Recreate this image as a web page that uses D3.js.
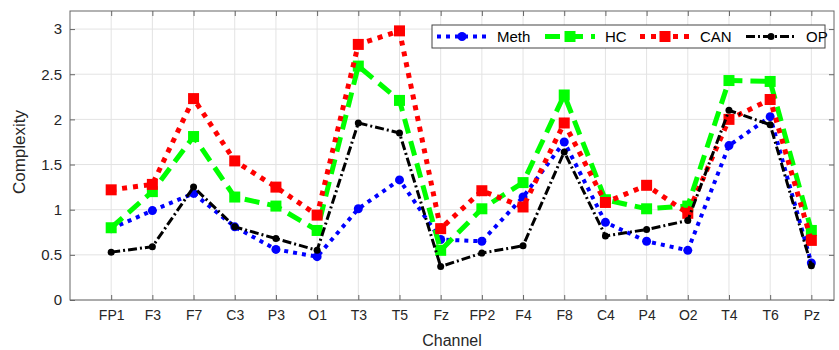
<!DOCTYPE html>
<html><head><meta charset="utf-8">
<script src="https://cdn.jsdelivr.net/npm/d3@7"></script>
<style>body{margin:0;background:#fff}svg{display:block}text{font-family:"Liberation Sans",Arial,sans-serif}</style>
</head><body><svg id="c" width="839" height="350"></svg>
<script>
const channels = ["FP1","F3","F7","C3","P3","O1","T3","T5","Fz","FP2","F4","F8","C4","P4","O2","T4","T6","Pz"];
const meth = [0.79,0.99,1.18,0.81,0.56,0.48,1.01,1.33,0.67,0.65,1.14,1.75,0.86,0.65,0.55,1.71,2.03,0.41];
const hc   = [0.80,1.20,1.81,1.14,1.04,0.77,2.59,2.21,0.55,1.01,1.30,2.27,1.11,1.01,1.04,2.43,2.42,0.77];
const can  = [1.22,1.28,2.23,1.54,1.25,0.94,2.83,2.98,0.79,1.21,1.03,1.96,1.08,1.27,0.96,2.00,2.22,0.66];
const op   = [0.53,0.59,1.25,0.81,0.68,0.55,1.96,1.85,0.37,0.52,0.60,1.64,0.71,0.78,0.88,2.10,1.94,0.38];
const yTicks = [0,0.5,1,1.5,2,2.5,3];
const seriesNames = ["Meth","HC","CAN","OP"];

const svg = d3.select("#c");
const L=70, R=834, T=11, B=300;
const x = d3.scaleLinear().domain([0,18.55]).range([L,R]);
const y = d3.scaleLinear().domain([0,3.2]).range([B,T]);

// grid
const g = svg.append("g");
g.selectAll(".gx").data(channels).enter().append("line")
 .attr("x1",(d,i)=>x(i+1)).attr("x2",(d,i)=>x(i+1)).attr("y1",T).attr("y2",B)
 .attr("stroke","#e3e3e3").attr("stroke-width",1);
g.selectAll(".gy").data(yTicks).enter().append("line")
 .attr("x1",L).attr("x2",R).attr("y1",d=>y(d)).attr("y2",d=>y(d))
 .attr("stroke","#e3e3e3").attr("stroke-width",1);

// axes
const xAx = d3.axisBottom(x).tickValues(d3.range(1,19)).tickFormat(d=>channels[d-1]).tickSizeInner(-5).tickSizeOuter(0).tickPadding(10);
const xTop = d3.axisTop(x).tickValues(d3.range(1,19)).tickFormat("").tickSizeInner(-5).tickSizeOuter(0);
const yAx = d3.axisLeft(y).tickValues(yTicks).tickFormat(d3.format("")).tickSizeInner(-5).tickSizeOuter(0).tickPadding(8);
const yRight = d3.axisRight(y).tickValues(yTicks).tickFormat("").tickSizeInner(-5).tickSizeOuter(0);
function style(sel,fs){sel.selectAll("path,line").attr("stroke","#666");sel.selectAll("text").attr("fill","#262626").style("font-size",fs+"px");}
svg.append("g").attr("transform",`translate(0,${B})`).call(xAx).call(style,14);
svg.append("g").attr("transform",`translate(0,${T})`).call(xTop).call(style,14);
svg.append("g").attr("transform",`translate(${L},0)`).call(yAx).call(style,15);
svg.append("g").attr("transform",`translate(${R},0)`).call(yRight).call(style,14);
svg.selectAll(".domain").remove();
svg.append("rect").attr("x",L).attr("y",T).attr("width",R-L).attr("height",B-T).attr("fill","none").attr("stroke","#666").attr("stroke-width",1);

svg.append("text").attr("x",(L+R)/2).attr("y",346).attr("text-anchor","middle").style("font-size","16px").attr("fill","#262626").text("Channel");
svg.append("text").attr("transform",`translate(25,152) rotate(-90)`).attr("text-anchor","middle").style("font-size","17px").attr("fill","#262626").text("Complexity");

const cfg = [
 {name:"Meth", data:meth, color:"#0000ff", w:4, dash:"4 5", marker:"circle", ms:4.5},
 {name:"HC", data:hc, color:"#00ff00", w:5, dash:"15 8", marker:"square", ms:11},
 {name:"CAN", data:can, color:"#ff0000", w:5, dash:"5 6", marker:"square", ms:11},
 {name:"OP", data:op, color:"#000000", w:3, dash:"9 3 2 3", marker:"circle", ms:3.5}
];
const line = d3.line().x((d,i)=>x(i+1)).y(d=>y(d));
cfg.forEach(c=>{
  svg.append("path").datum(c.data).attr("d",line).attr("fill","none").attr("stroke",c.color)
   .attr("stroke-width",c.w).attr("stroke-dasharray",c.dash);
  if(c.marker==="circle"){
    svg.selectAll(null).data(c.data).enter().append("circle").attr("cx",(d,i)=>x(i+1)).attr("cy",d=>y(d)).attr("r",c.ms).attr("fill",c.color);
  } else {
    svg.selectAll(null).data(c.data).enter().append("rect").attr("x",(d,i)=>x(i+1)-c.ms/2).attr("y",d=>y(d)-c.ms/2).attr("width",c.ms).attr("height",c.ms).attr("fill",c.color);
  }
});

// legend
const lg = svg.append("g");
lg.append("rect").attr("x",432).attr("y",25).attr("width",393).attr("height",23).attr("fill","#fff").attr("stroke","#444").attr("stroke-width",1);
const lx = [437,545,640,746];
cfg.forEach((c,i)=>{
  const x0=lx[i], x1=x0+50, yy=36.5;
  lg.append("line").attr("x1",x0).attr("x2",x1).attr("y1",yy).attr("y2",yy).attr("stroke",c.color).attr("stroke-width",c.w).attr("stroke-dasharray",c.dash);
  const cx=(x0+x1)/2;
  if(c.marker==="circle") lg.append("circle").attr("cx",cx).attr("cy",yy).attr("r",c.ms).attr("fill",c.color);
  else lg.append("rect").attr("x",cx-c.ms/2).attr("y",yy-c.ms/2).attr("width",c.ms).attr("height",c.ms).attr("fill",c.color);
  lg.append("text").attr("x",x1+10).attr("y",yy+5.5).style("font-size","15px").attr("fill","#000").text(seriesNames[i]);
});
</script></body></html>
